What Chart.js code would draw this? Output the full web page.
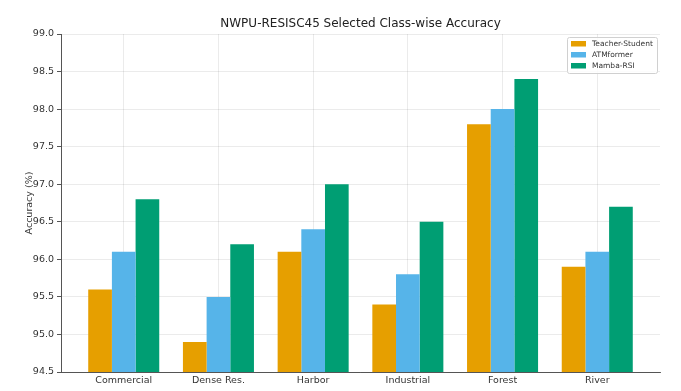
<!DOCTYPE html>
<html lang="en">
<head>
    <meta charset="UTF-8">
    <title>NWPU-RESISC45 Selected Class-wise Accuracy</title>
    <script src="https://cdn.jsdelivr.net/npm/chart.js"></script>
    <style>
        body {
            margin: 0;
            background-color: white;
        }
        .wrap {
            width: 681px;
            height: 391px;
        }
    </style>
</head>
<body>
    <div class="wrap">
        <canvas id="chart"></canvas>
    </div>

    <script>
        const categories = ['Commercial', 'Dense Res.', 'Harbor', 'Industrial', 'Forest', 'River'];
        const teacherStudent = [95.6, 94.9, 96.1, 95.4, 97.8, 95.9];
        const atmformer = [96.1, 95.5, 96.4, 95.8, 98.0, 96.1];
        const mambaRsi = [96.8, 96.2, 97.0, 96.5, 98.4, 96.7];
        const yTicks = [94.5, 95.0, 95.5, 96.0, 96.5, 97.0, 97.5, 98.0, 98.5, 99.0];

        const seriesNames = ['Teacher-Student', 'ATMformer', 'Mamba-RSI'];
        const seriesColors = ['#E69F00', '#56B4E9', '#009E73'];
        const chartTitle = 'NWPU-RESISC45 Selected Class-wise Accuracy';
        const font = 'DejaVu Sans, sans-serif';

        function points(values) {
            return values.map((v, i) => ({ x: i, y: v }));
        }

        // title centred over the plot area and legend box inside it, matplotlib style
        const boxLegend = {
            id: 'boxLegend',
            afterDraw(chart) {
                const c = chart.ctx;
                const area = chart.chartArea;
                c.save();
                c.font = '12px ' + font;
                c.fillStyle = '#222';
                c.textAlign = 'center';
                c.textBaseline = 'middle';
                c.fillText(chartTitle, (area.left + area.right) / 2, 24);

                const w = 90, h = 36;
                const x = area.right - w - 3, y = area.top + 3;
                c.fillStyle = 'rgba(255,255,255,0.85)';
                c.strokeStyle = '#d0d0d0';
                c.lineWidth = 1;
                c.beginPath();
                c.roundRect(x + 0.5, y + 0.5, w, h, 2);
                c.fill();
                c.stroke();
                c.font = '7.5px ' + font;
                c.textAlign = 'left';
                chart.data.datasets.forEach((ds, i) => {
                    const ry = y + 7 + i * 11;
                    c.fillStyle = ds.backgroundColor;
                    c.fillRect(x + 4, ry - 3, 15, 5.5);
                    c.fillStyle = '#333';
                    c.fillText(ds.label, x + 25, ry);
                });
                c.restore();
            }
        };

        const ctx = document.getElementById('chart').getContext('2d');
        new Chart(ctx, {
            type: 'bar',
            data: {
                datasets: [teacherStudent, atmformer, mambaRsi].map((vals, i) => ({
                    label: seriesNames[i],
                    data: points(vals),
                    backgroundColor: seriesColors[i],
                    categoryPercentage: 0.75,
                    barPercentage: 1.0
                }))
            },
            options: {
                responsive: true,
                maintainAspectRatio: false,
                animation: false,
                layout: { padding: { left: 24, right: 21, top: 34, bottom: 0 } },
                plugins: {
                    legend: { display: false },
                    tooltip: { enabled: false },
                    title: { display: false }
                },
                scales: {
                    x: {
                        type: 'linear',
                        min: -0.6625,
                        max: 5.6625,
                        offset: false,
                        z: 1,
                        afterBuildTicks: s => { s.ticks = categories.map((_, i) => ({ value: i })); },
                        afterFit: s => { s.height = 19; },
                        ticks: {
                            callback: v => categories[v] ?? '',
                            color: '#333',
                            font: { family: font, size: 9.5 },
                            padding: 3,
                            maxRotation: 0,
                            autoSkip: false
                        },
                        grid: {
                            offset: false,
                            color: 'rgba(0,0,0,0.1)',
                            borderDash: [4, 2],
                            lineWidth: 0.8,
                            drawTicks: false
                        },
                        border: { color: '#555', width: 1 }
                    },
                    y: {
                        min: 94.5,
                        max: 99.0,
                        z: 1,
                        afterBuildTicks: s => { s.ticks = yTicks.map(v => ({ value: v })); },
                        afterFit: s => { s.width = 37; },
                        ticks: {
                            callback: v => v.toFixed(1),
                            color: '#333',
                            font: { family: font, size: 9.5 },
                            padding: 3
                        },
                        grid: {
                            color: 'rgba(0,0,0,0.1)',
                            borderDash: [4, 2],
                            lineWidth: 0.8,
                            tickLength: 4,
                            tickColor: '#555',
                            tickBorderDash: [],
                            tickWidth: 1
                        },
                        border: { color: '#555', width: 1 },
                        title: {
                            display: true,
                            text: 'Accuracy (%)',
                            color: '#333',
                            font: { family: font, size: 9.5 },
                            padding: { top: 0, bottom: 2 }
                        }
                    }
                }
            },
            plugins: [boxLegend]
        });
    </script>
</body>
</html>
